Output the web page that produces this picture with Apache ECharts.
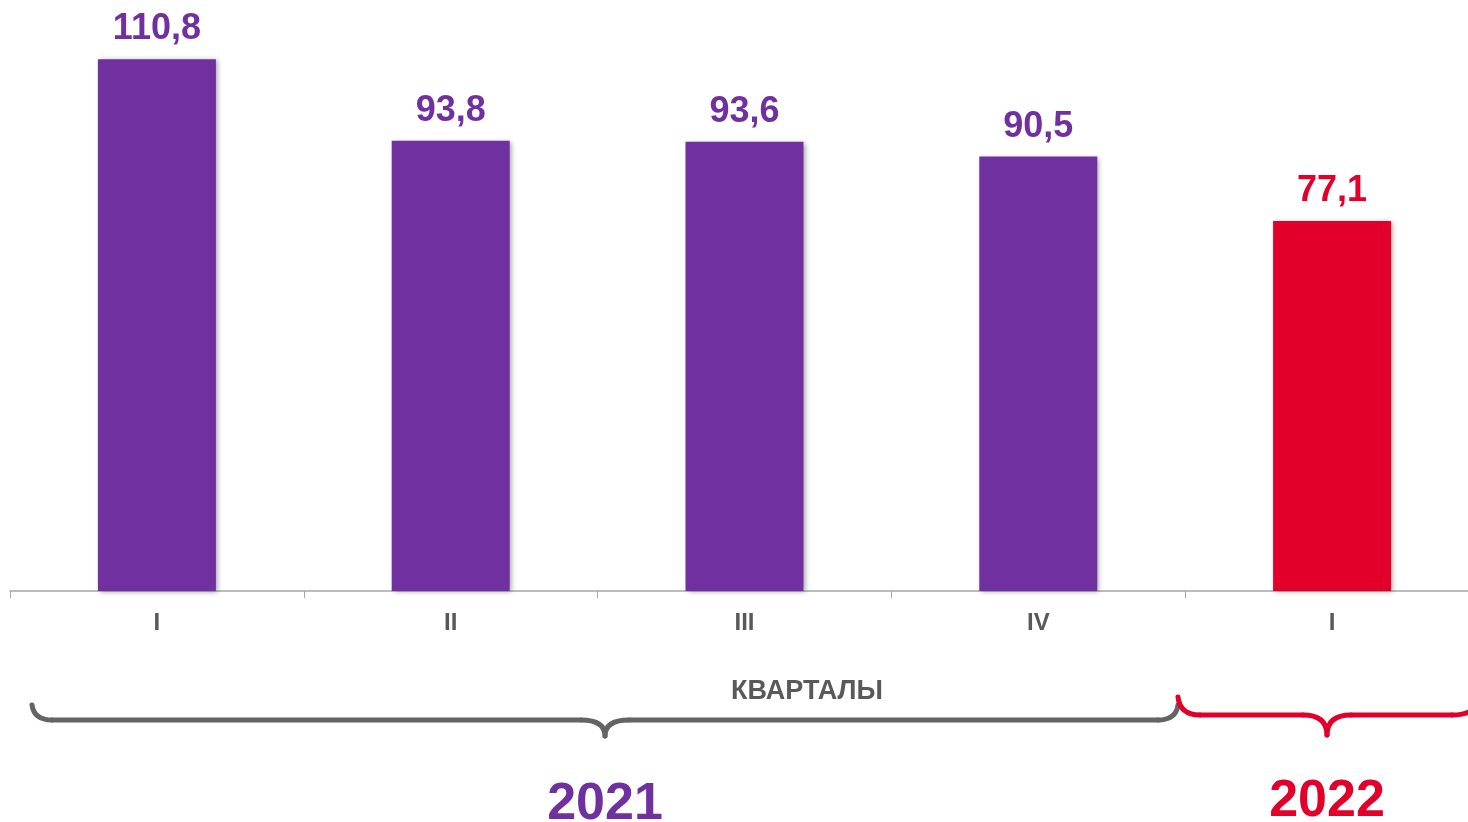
<!DOCTYPE html>
<html>
<head>
<meta charset="utf-8">
<script src="https://cdn.jsdelivr.net/npm/echarts@6/dist/echarts.min.js"></script>
<style>
  html, body { margin: 0; padding: 0; background: #fff; }
  #main { width: 1468px; height: 822px; }
</style>
</head>
<body>
<div id="main"></div>
<script>
const quarters = ['I', 'II', 'III', 'IV', 'I'];
const values = [110.8, 93.8, 93.6, 90.5, 77.1];
const years = ['2021', '2022'];
const axisTitle = 'КВАРТАЛЫ';

const PURPLE = '#7030A0';
const RED = '#E2002B';
const GRAY = '#595959';
const FONT = '"Liberation Sans", Arial, sans-serif';

// curly brace: ends at x0 / x1, horizontal line at yh, middle tip at (xm, ym)
function brace(x0, yStart, x1, yEnd, yh, xm, ym, r, color) {
  const st = { stroke: color, lineWidth: 5, fill: null, lineCap: 'round' };
  const curve = (a, b, c, d, e, f) => ({
    type: 'bezierCurve', shape: { x1: a, y1: b, cpx1: c, cpy1: d, x2: e, y2: f }, style: st
  });
  const line = (a, b, c, d) => ({ type: 'line', shape: { x1: a, y1: b, x2: c, y2: d }, style: st });
  return {
    type: 'group',
    children: [
      curve(x0, yStart, x0 + 2, yh, x0 + r, yh),
      line(x0 + r, yh, xm - 24, yh),
      curve(xm - 24, yh, xm, yh, xm, ym),
      curve(xm, ym, xm, yh, xm + 24, yh),
      line(xm + 24, yh, x1 - r, yh),
      curve(x1 - r, yh, x1 - 2, yh, x1, yEnd)
    ]
  };
}

const chart = echarts.init(document.getElementById('main'));

const option = {
  backgroundColor: '#fff',
  animation: false,
  grid: { left: 10, top: 15, width: 1469, bottom: 231, outerBoundsMode: 'none', containLabel: false },
  xAxis: {
    type: 'category',
    data: quarters,
    axisLine: { lineStyle: { color: '#a6a6a6', width: 1.5 } },
    axisTick: { show: true, length: 7, lineStyle: { color: '#a6a6a6', width: 1 } },
    axisLabel: {
      color: GRAY, fontSize: 24, fontWeight: 'bold', fontFamily: FONT, margin: 20
    }
  },
  yAxis: { type: 'value', min: 0, max: 120, show: false, splitLine: { show: false } },
  series: [{
    type: 'bar',
    barWidth: 118,
    data: values.map(function (v, i) {
      const c = i === values.length - 1 ? RED : PURPLE;
      return { value: v, itemStyle: { color: c }, label: { color: c } };
    }),
    itemStyle: {
      shadowBlur: 5, shadowColor: 'rgba(0,0,0,0.35)', shadowOffsetX: 2, shadowOffsetY: 1
    },
    label: {
      show: true, position: 'top', distance: 12,
      fontSize: 36, fontWeight: 'bold', fontFamily: FONT,
      formatter: function (p) { return String(p.value).replace('.', ','); }
    }
  }],
  graphic: [
    brace(32, 705, 1178, 705, 720, 605, 736, 20, '#646464'),
    brace(1178, 697, 1474, 705, 715, 1327, 735, 22, RED),
    {
      type: 'text', x: 807, y: 692,
      style: { text: axisTitle, fill: GRAY, font: 'bold 27px ' + FONT, align: 'center', verticalAlign: 'middle' }
    },
    {
      type: 'text', x: 605, y: 805,
      style: { text: years[0], fill: PURPLE, font: 'bold 52px ' + FONT, align: 'center', verticalAlign: 'middle' }
    },
    {
      type: 'text', x: 1327, y: 802,
      style: { text: years[1], fill: RED, font: 'bold 52px ' + FONT, align: 'center', verticalAlign: 'middle' }
    }
  ]
};

chart.setOption(option);
</script>
</body>
</html>
